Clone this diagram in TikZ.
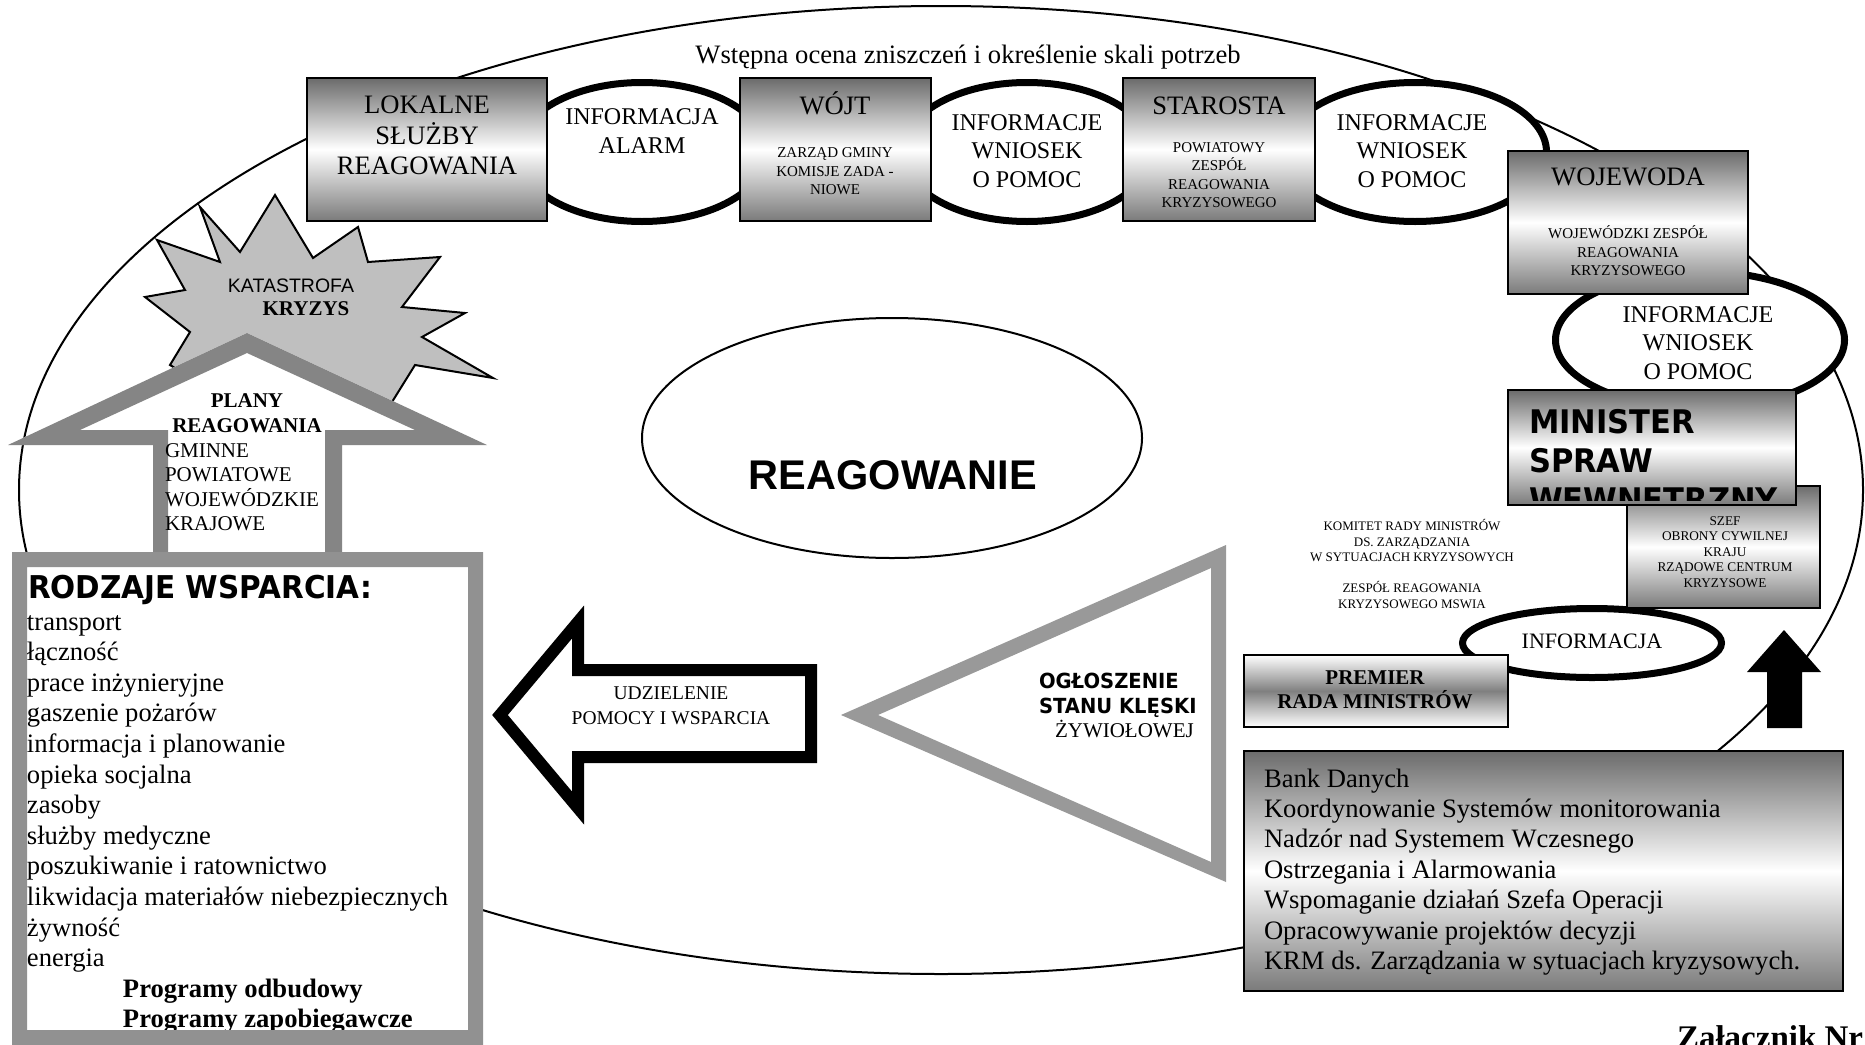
\documentclass[tikz,border=0pt]{standalone}
\usepackage{fontspec}
\setmainfont{Liberation Serif}
\newfontfamily\arialfont{Liberation Sans}
\newfontfamily\tahfont[FakeStretch=0.94]{DejaVu Sans}
\usetikzlibrary{shapes.geometric}
\begin{document}
\begin{tikzpicture}[x=1pt, y=-1pt,
  every node/.style={inner sep=0pt, outer sep=0pt},
  gbox/.style={rectangle, draw=black, line width=2.5pt, top color=black!58, bottom color=black!52, middle color=white},
  pbox/.style={rectangle, draw=black, line width=2.5pt, top color=white, bottom color=white, middle color=black!50},
  oval/.style={ellipse, draw=black, line width=7pt, fill=white},
  thin oval/.style={ellipse, draw=black, line width=2pt},
  big/.style={font=\fontsize{26.6}{30.4}\selectfont},
  mid/.style={font=\fontsize{24}{28.5}\selectfont},
  small/.style={font=\fontsize{15}{18.4}\selectfont},
  tiny/.style={font=\fontsize{13.3}{15.5}\selectfont},
]
\useasboundingbox (0,0) rectangle (1865,1044);

% outer cycle of the response process
\node[thin oval, minimum width=1844pt, minimum height=968pt] (cycle) at (941,490) {};

% central ellipse
\node[thin oval, fill=white, minimum width=500pt, minimum height=240pt] (reag) at (892,438) {};
\node[anchor=base, font=\arialfont\bfseries\fontsize{41.5}{50}\selectfont] (reagtxt) at (893,489) {REAGOWANIE};

% explosion
\draw[fill=black!25, line width=2pt, line join=miter]
  (275,195) -- (313,258) -- (358,227) -- (368,262) -- (440,257) -- (402,307)
  -- (465,313) -- (422,337) -- (493,378) -- (415,365) -- (392,402) -- (340,430)
  -- (300,400) -- (250,440) -- (220,395) -- (170,365) -- (190,332) -- (145,297)
  -- (185,290) -- (157,240) -- (220,262) -- (200,207) -- (240,252) -- cycle;
\node[anchor=base, font=\arialfont\fontsize{19.5}{23}\selectfont] (katastrofa) at (291,292) {KATASTROFA};
\node[anchor=base, font=\bfseries\fontsize{21}{25}\selectfont] (kryzys) at (306,315) {KRYZYS};

% house of response plans
\fill[white] (8,445) -- (247,333) -- (487,445) -- (342,445) -- (342,556) -- (153,556) -- (153,445) -- cycle;
\fill[black!48, even odd rule]
  (8,445) -- (247,333) -- (487,445) -- (342,445) -- (342,556) -- (153,556) -- (153,445) -- cycle
  (80,430) -- (247,353) -- (415,430) -- (325,430) -- (325,556) -- (168,556) -- (168,430) -- cycle;
\node[align=center, font=\bfseries\fontsize{21}{24.5}\selectfont] (plany) at (247,413) {PLANY\\REAGOWANIA};
\node[anchor=north west, align=left, font=\fontsize{21}{24.5}\selectfont] (planylist) at (165,440)
  {\rule{0pt}{17pt}GMINNE\\POWIATOWE\\WOJEWÓDZKIE\\KRAJOWE};

% kinds of support
\fill[white] (27,567) rectangle (468,1030);
\node[anchor=base west, font=\tahfont\bfseries\fontsize{31.4}{38}\selectfont] (rodzaje) at (28,598) {RODZAJE WSPARCIA:};
\node[anchor=north west, align=left, font=\fontsize{26.6}{30.6}\selectfont] (rodzlist) at (27,610)
  {\rule{0pt}{20pt}transport\\łączność\\prace inżynieryjne\\gaszenie pożarów\\informacja i planowanie\\opieka socjalna\\zasoby\\służby medyczne\\poszukiwanie i ratownictwo\\likwidacja materiałów niebezpiecznych\\żywność\\energia\\\hspace*{96pt}\textbf{Programy odbudowy}\\\hspace*{96pt}\textbf{Programy zapobiegawcze}};
\fill[black!43, even odd rule] (12,552) rectangle (483,1060) (27,567) rectangle (468,1030);

% declaration triangle
\fill[black!40, even odd rule]
  (841,715) -- (1226,545) -- (1226,882) -- cycle
  (878,715) -- (1211,568) -- (1211,862) -- cycle;
\node[anchor=base west, font=\tahfont\bfseries\fontsize{20.8}{25}\selectfont] (ogl1) at (1039,688) {OGŁOSZENIE};
\node[anchor=base west, font=\tahfont\bfseries\fontsize{20.8}{25}\selectfont] (ogl2) at (1039,713) {STANU KLĘSKI};
\node[anchor=base west, font=\fontsize{21}{25}\selectfont] (ogl3) at (1055,737) {ŻYWIOŁOWEJ};

% help arrow
\draw[line width=12pt, line join=miter, fill=white]
  (500,715) -- (578,622) -- (578,670) -- (811,670) -- (811,757) -- (578,757) -- (578,808) -- cycle;
\node[align=center, font=\fontsize{19.5}{25}\selectfont] (pomoc) at (671,705.5) {UDZIELENIE\\POMOCY I WSPARCIA};

% top text
\node[anchor=base, big] (ocena) at (968,63) {Wstępna ocena zniszczeń i określenie skali potrzeb};

% information ovals
\node[oval, minimum width=249pt, minimum height=139pt] (e1) at (642,152) {};
\node[oval, minimum width=249pt, minimum height=139pt] (e2) at (1027,152) {};
\node[oval, minimum width=263pt, minimum height=139pt] (e3) at (1415,152) {};
\node[oval, minimum width=289pt, minimum height=137pt] (e4) at (1700,340) {};
\node[oval, minimum width=259pt, minimum height=69pt] (e5) at (1592,643) {};

\node[align=center, mid] (e1t) at (642,131) {INFORMACJA\\ALARM};
\node[align=center, mid] (e2t) at (1027,151) {INFORMACJE\\WNIOSEK\\O POMOC};
\node[align=center, mid] (e3t) at (1412,151) {INFORMACJE\\WNIOSEK\\O POMOC};
\node[align=center, mid] (e4t) at (1698,343) {INFORMACJE\\WNIOSEK\\O POMOC};
\node[anchor=base, font=\fontsize{22}{26}\selectfont] (e5t) at (1592,648) {INFORMACJA};

% authority boxes
\node[gbox, anchor=north west, minimum width=240pt, minimum height=143pt] (lok) at (307,78) {};
\node[gbox, anchor=north west, minimum width=191pt, minimum height=143pt] (wojt) at (740,78) {};
\node[gbox, anchor=north west, minimum width=192pt, minimum height=143pt] (staro) at (1123,78) {};
\node[gbox, anchor=north west, minimum width=240pt, minimum height=143pt] (wojew) at (1508,151) {};
\node[gbox, anchor=north west, minimum width=193pt, minimum height=122pt] (szef) at (1627,486) {};
\node[gbox, anchor=north west, minimum width=288pt, minimum height=115pt] (msw) at (1508,390) {};
\node[pbox, anchor=north west, minimum width=264pt, minimum height=72pt] (premier) at (1244,655) {};
\node[gbox, anchor=north west, minimum width=599pt, minimum height=240pt] (bank) at (1244,751) {};

\node[align=center, big] (lokt) at (427,135.5) {LOKALNE\\SŁUŻBY\\REAGOWANIA};
\node[anchor=base, big] (wojtt) at (835,114) {WÓJT};
\node[align=center, small] (wojts) at (835,171.5) {ZARZĄD GMINY\\KOMISJE ZADA -\\NIOWE};
\node[anchor=base, big] (starot) at (1219,114) {STAROSTA};
\node[align=center, small] (staros) at (1219,175) {POWIATOWY\\ZESPÓŁ\\REAGOWANIA\\KRYZYSOWEGO};
\node[anchor=base, big] (wojewt) at (1628,185) {WOJEWODA};
\node[align=center, small] (wojews) at (1628,251) {WOJEWÓDZKI ZESPÓŁ\\REAGOWANIA\\KRYZYSOWEGO};

\node[align=center, tiny] (szeft) at (1725,552) {SZEF\\OBRONY CYWILNEJ\\KRAJU\\RZĄDOWE CENTRUM\\KRYZYSOWE};

\begin{scope}
  \clip (1510,392) rectangle (1794,500);
  \node[anchor=north west, align=left, font=\tahfont\bfseries\fontsize{32.5}{39}\selectfont] (mswt) at (1529,407)
    {\rule{0pt}{26pt}MINISTER\\SPRAW\\WEWNĘTRZNY};
\end{scope}

\node[align=center, font=\fontsize{13}{15.5}\selectfont] (komitet) at (1412,564)
  {KOMITET RADY MINISTRÓW\\DS. ZARZĄDZANIA\\W SYTUACJACH KRYZYSOWYCH\\[15.5pt]ZESPÓŁ REAGOWANIA\\KRYZYSOWEGO MSWIA};

\node[align=center, font=\bfseries\fontsize{21}{24}\selectfont] (premiert) at (1375,690) {PREMIER\\RADA MINISTRÓW};

\node[anchor=north west, align=left, big] (bankt) at (1264,767)
  {\rule{0pt}{20pt}Bank Danych\\Koordynowanie Systemów monitorowania\\Nadzór nad Systemem Wczesnego\\Ostrzegania i Alarmowania\\Wspomaganie działań Szefa Operacji\\Opracowywanie projektów decyzji\\KRM ds. Zarządzania w sytuacjach kryzysowych.};

% upward arrow
\fill (1784,630) -- (1821,672) -- (1802,672) -- (1802,728) -- (1767,728) -- (1767,672) -- (1747,672) -- cycle;

% annex label, running off the lower edge
\node[anchor=base west, font=\bfseries\fontsize{33}{38}\selectfont] (zal) at (1677,1048) {Załącznik Nr};
\end{tikzpicture}
\end{document}
